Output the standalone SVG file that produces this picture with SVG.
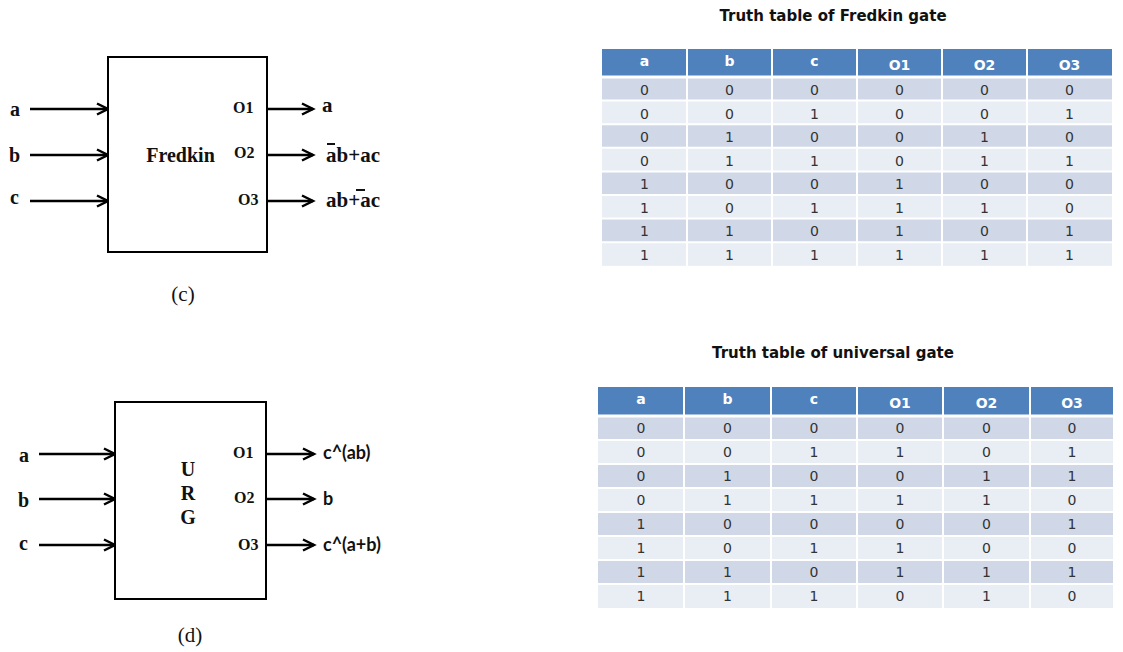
<svg xmlns="http://www.w3.org/2000/svg" width="1123" height="652" viewBox="0 0 1123 652">
<defs>
<marker id="arr" markerUnits="userSpaceOnUse" markerWidth="16" markerHeight="14" refX="13" refY="7" orient="auto">
<path d="M2,1.5 L13,7 L2,12.5" fill="none" stroke="#000" stroke-width="2.5"/>
</marker>
<style>
.box{fill:#fff;stroke:#000;stroke-width:2}
.wire{stroke:#000;stroke-width:2.5;fill:none;marker-end:url(#arr)}
.lbl{font-family:"Liberation Serif",serif;font-weight:bold;font-size:20px;fill:#111}
.port{font-family:"Liberation Serif",serif;font-weight:bold;font-size:16px;fill:#111}
.fout{font-family:"Liberation Serif",serif;font-weight:bold;font-size:21px;fill:#111}
.out{font-family:Lato,"Liberation Sans",sans-serif;font-weight:bold;font-size:18px;fill:#111}
.cap{font-family:"Liberation Serif",serif;font-size:21px;fill:#111;text-anchor:middle}
.bar{stroke:#111;stroke-width:2}
.title{font-family:"DejaVu Sans",sans-serif;font-weight:bold;font-size:15px;fill:#111;text-anchor:middle}
.hd{fill:#4F81BD}
.r1{fill:#D0D8E8}
.r2{fill:#E9EDF4}
.grid{stroke:#fff;stroke-width:2}
.ht{font-family:"DejaVu Sans",sans-serif;font-weight:bold;font-size:14px;fill:#fff;text-anchor:middle}
.dt{font-family:"DejaVu Sans",sans-serif;font-size:14px;fill:#333;text-anchor:middle}
</style>
</defs>
<rect width="1123" height="652" fill="#fff"/>

<g id="connectors">
<line class="wire" x1="30" y1="109" x2="108" y2="109"/>
<line class="wire" x1="30" y1="155" x2="108" y2="155"/>
<line class="wire" x1="30" y1="201" x2="108" y2="201"/>
<line class="wire" x1="267" y1="109" x2="313" y2="109"/>
<line class="wire" x1="267" y1="155" x2="313" y2="155"/>
<line class="wire" x1="267" y1="201" x2="313" y2="201"/>
<line class="wire" x1="39" y1="454" x2="115" y2="454"/>
<line class="wire" x1="39" y1="499" x2="115" y2="499"/>
<line class="wire" x1="39" y1="545" x2="115" y2="545"/>
<line class="wire" x1="266" y1="454" x2="314" y2="454"/>
<line class="wire" x1="266" y1="499" x2="314" y2="499"/>
<line class="wire" x1="266" y1="545" x2="314" y2="545"/>
</g>

<g id="fredkin">
<rect class="box" x="108" y="57" width="159" height="195"/>
<text class="lbl" x="180.5" y="162" text-anchor="middle" font-size="21">Fredkin</text>
<text class="port" x="233" y="113">O1</text>
<text class="port" x="234" y="158">O2</text>
<text class="port" x="238" y="205">O3</text>
</g>
<g id="fredkin-inputs">
<text class="lbl" x="10" y="116">a</text>
<text class="lbl" x="9" y="162">b</text>
<text class="lbl" x="10" y="204">c</text>
</g>
<g id="fredkin-outputs">
<text class="fout" x="322" y="112">a</text>
<text class="fout" x="326" y="162">ab+ac</text>
<line class="bar" x1="327" y1="144" x2="335" y2="144"/>
<text class="fout" x="326" y="207">ab+ac</text>
<line class="bar" x1="356" y1="190" x2="365" y2="190"/>
</g>
<text id="cap-c" class="cap" x="183" y="301">(c)</text>

<g id="urg">
<rect class="box" x="115" y="402" width="151" height="197"/>
<text class="lbl" x="188" y="476" text-anchor="middle">U</text>
<text class="lbl" x="188" y="500" text-anchor="middle">R</text>
<text class="lbl" x="188" y="524" text-anchor="middle">G</text>
<text class="port" x="233" y="458">O1</text>
<text class="port" x="234" y="503">O2</text>
<text class="port" x="238" y="550">O3</text>
</g>
<g id="urg-inputs">
<text class="lbl" x="19" y="462">a</text>
<text class="lbl" x="18" y="507">b</text>
<text class="lbl" x="19" y="550">c</text>
</g>
<g id="urg-outputs">
<text class="out" x="323" y="459">c^(ab)</text>
<text class="out" x="323" y="505">b</text>
<text class="out" x="323" y="551">c^(a+b)</text>
</g>
<text id="cap-d" class="cap" x="190" y="642">(d)</text>

<g id="table-fredkin">
<text class="title" x="833" y="21">Truth table of Fredkin gate</text>
<rect class="hd" x="602" y="49" width="510" height="28"/>
<rect class="r1" x="602" y="77" width="510" height="23.6"/>
<rect class="r2" x="602" y="100.6" width="510" height="23.6"/>
<rect class="r1" x="602" y="124.2" width="510" height="23.6"/>
<rect class="r2" x="602" y="147.8" width="510" height="23.6"/>
<rect class="r1" x="602" y="171.4" width="510" height="23.6"/>
<rect class="r2" x="602" y="195" width="510" height="23.6"/>
<rect class="r1" x="602" y="218.6" width="510" height="23.6"/>
<rect class="r2" x="602" y="242.2" width="510" height="23.6"/>
<g class="grid">
<line x1="687" y1="49" x2="687" y2="266"/>
<line x1="772" y1="49" x2="772" y2="266"/>
<line x1="857" y1="49" x2="857" y2="266"/>
<line x1="942" y1="49" x2="942" y2="266"/>
<line x1="1027" y1="49" x2="1027" y2="266"/>
<line x1="602" y1="77" x2="1112" y2="77" stroke-width="3"/>
<line x1="602" y1="100.6" x2="1112" y2="100.6"/>
<line x1="602" y1="124.2" x2="1112" y2="124.2"/>
<line x1="602" y1="147.8" x2="1112" y2="147.8"/>
<line x1="602" y1="171.4" x2="1112" y2="171.4"/>
<line x1="602" y1="195" x2="1112" y2="195"/>
<line x1="602" y1="218.6" x2="1112" y2="218.6"/>
<line x1="602" y1="242.2" x2="1112" y2="242.2"/>
</g>
<text class="ht" x="644.5" y="66">a</text>
<text class="ht" x="729.5" y="66">b</text>
<text class="ht" x="814.5" y="66">c</text>
<text class="ht" x="899.5" y="70">O1</text>
<text class="ht" x="984.5" y="70">O2</text>
<text class="ht" x="1069.5" y="70">O3</text>
<g class="dt">
<text x="644.5" y="95">0</text><text x="729.5" y="95">0</text><text x="814.5" y="95">0</text><text x="899.5" y="95">0</text><text x="984.5" y="95">0</text><text x="1069.5" y="95">0</text>
<text x="644.5" y="118.5">0</text><text x="729.5" y="118.5">0</text><text x="814.5" y="118.5">1</text><text x="899.5" y="118.5">0</text><text x="984.5" y="118.5">0</text><text x="1069.5" y="118.5">1</text>
<text x="644.5" y="142">0</text><text x="729.5" y="142">1</text><text x="814.5" y="142">0</text><text x="899.5" y="142">0</text><text x="984.5" y="142">1</text><text x="1069.5" y="142">0</text>
<text x="644.5" y="165.5">0</text><text x="729.5" y="165.5">1</text><text x="814.5" y="165.5">1</text><text x="899.5" y="165.5">0</text><text x="984.5" y="165.5">1</text><text x="1069.5" y="165.5">1</text>
<text x="644.5" y="189">1</text><text x="729.5" y="189">0</text><text x="814.5" y="189">0</text><text x="899.5" y="189">1</text><text x="984.5" y="189">0</text><text x="1069.5" y="189">0</text>
<text x="644.5" y="212.5">1</text><text x="729.5" y="212.5">0</text><text x="814.5" y="212.5">1</text><text x="899.5" y="212.5">1</text><text x="984.5" y="212.5">1</text><text x="1069.5" y="212.5">0</text>
<text x="644.5" y="236">1</text><text x="729.5" y="236">1</text><text x="814.5" y="236">0</text><text x="899.5" y="236">1</text><text x="984.5" y="236">0</text><text x="1069.5" y="236">1</text>
<text x="644.5" y="259.5">1</text><text x="729.5" y="259.5">1</text><text x="814.5" y="259.5">1</text><text x="899.5" y="259.5">1</text><text x="984.5" y="259.5">1</text><text x="1069.5" y="259.5">1</text>
</g>
</g>

<g id="table-universal">
<text class="title" x="833" y="358">Truth table of universal gate</text>
<rect class="hd" x="598" y="387" width="515" height="29"/>
<rect class="r1" x="598" y="416" width="515" height="24"/>
<rect class="r2" x="598" y="440" width="515" height="24"/>
<rect class="r1" x="598" y="464" width="515" height="24"/>
<rect class="r2" x="598" y="488" width="515" height="24"/>
<rect class="r1" x="598" y="512" width="515" height="24"/>
<rect class="r2" x="598" y="536" width="515" height="24"/>
<rect class="r1" x="598" y="560" width="515" height="24"/>
<rect class="r2" x="598" y="584" width="515" height="24"/>
<g class="grid">
<line x1="684" y1="387" x2="684" y2="608"/>
<line x1="771" y1="387" x2="771" y2="608"/>
<line x1="857" y1="387" x2="857" y2="608"/>
<line x1="943" y1="387" x2="943" y2="608"/>
<line x1="1030" y1="387" x2="1030" y2="608"/>
<line x1="598" y1="416" x2="1113" y2="416" stroke-width="3"/>
<line x1="598" y1="440" x2="1113" y2="440"/>
<line x1="598" y1="464" x2="1113" y2="464"/>
<line x1="598" y1="488" x2="1113" y2="488"/>
<line x1="598" y1="512" x2="1113" y2="512"/>
<line x1="598" y1="536" x2="1113" y2="536"/>
<line x1="598" y1="560" x2="1113" y2="560"/>
<line x1="598" y1="584" x2="1113" y2="584"/>
</g>
<text class="ht" x="641" y="404">a</text>
<text class="ht" x="727.5" y="404">b</text>
<text class="ht" x="814" y="404">c</text>
<text class="ht" x="900" y="408">O1</text>
<text class="ht" x="986.5" y="408">O2</text>
<text class="ht" x="1072" y="408">O3</text>
<g class="dt">
<text x="641" y="433">0</text><text x="727.5" y="433">0</text><text x="814" y="433">0</text><text x="900" y="433">0</text><text x="986.5" y="433">0</text><text x="1072" y="433">0</text>
<text x="641" y="457">0</text><text x="727.5" y="457">0</text><text x="814" y="457">1</text><text x="900" y="457">1</text><text x="986.5" y="457">0</text><text x="1072" y="457">1</text>
<text x="641" y="481">0</text><text x="727.5" y="481">1</text><text x="814" y="481">0</text><text x="900" y="481">0</text><text x="986.5" y="481">1</text><text x="1072" y="481">1</text>
<text x="641" y="505">0</text><text x="727.5" y="505">1</text><text x="814" y="505">1</text><text x="900" y="505">1</text><text x="986.5" y="505">1</text><text x="1072" y="505">0</text>
<text x="641" y="529">1</text><text x="727.5" y="529">0</text><text x="814" y="529">0</text><text x="900" y="529">0</text><text x="986.5" y="529">0</text><text x="1072" y="529">1</text>
<text x="641" y="553">1</text><text x="727.5" y="553">0</text><text x="814" y="553">1</text><text x="900" y="553">1</text><text x="986.5" y="553">0</text><text x="1072" y="553">0</text>
<text x="641" y="577">1</text><text x="727.5" y="577">1</text><text x="814" y="577">0</text><text x="900" y="577">1</text><text x="986.5" y="577">1</text><text x="1072" y="577">1</text>
<text x="641" y="601">1</text><text x="727.5" y="601">1</text><text x="814" y="601">1</text><text x="900" y="601">0</text><text x="986.5" y="601">1</text><text x="1072" y="601">0</text>
</g>
</g>
</svg>
